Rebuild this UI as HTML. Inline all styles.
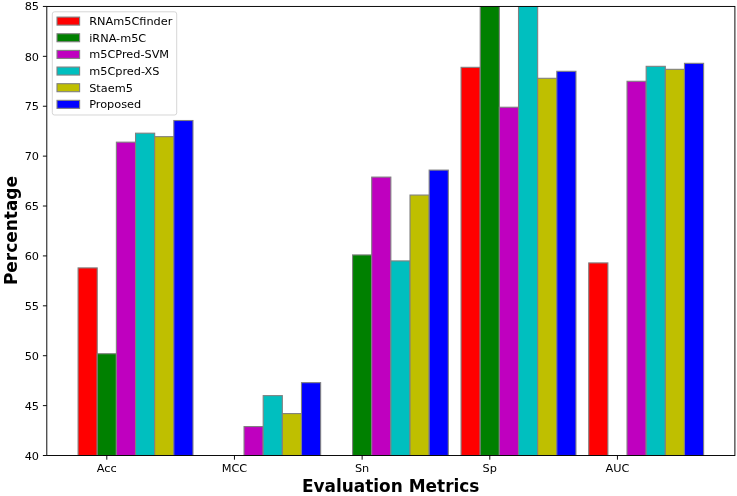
<!DOCTYPE html>
<html lang="en">
<head>
<meta charset="utf-8">
<title>Evaluation Metrics</title>
<style>
html,body{margin:0;padding:0;background:#fff;}
body{width:737px;height:496px;overflow:hidden;}
svg{display:block;}
text{font-family:"DejaVu Sans","Liberation Sans",sans-serif;fill:#000;}
.t{font-size:11.3px;}
.l{font-size:16.95px;font-weight:bold;}
</style>
</head>
<body>
<svg width="737" height="496" viewBox="0 0 737 496">
<rect x="0" y="0" width="737" height="496" fill="#ffffff"/>
<defs><clipPath id="ax"><rect x="46.8" y="6.45" width="688.1" height="449.05"/></clipPath></defs>

<g clip-path="url(#ax)" stroke="#808080" stroke-width="1.1">
<rect x="78.08" y="267.90" width="19.15" height="187.60" fill="#ff0000"/>
<rect x="461.06" y="67.32" width="19.15" height="388.18" fill="#ff0000"/>
<rect x="588.73" y="262.91" width="19.15" height="192.59" fill="#ff0000"/>
<rect x="97.23" y="353.72" width="19.15" height="101.78" fill="#008000"/>
<rect x="352.55" y="254.92" width="19.15" height="200.58" fill="#008000"/>
<rect x="480.21" y="-93.34" width="19.15" height="548.84" fill="#008000"/>
<rect x="116.38" y="142.16" width="19.15" height="313.34" fill="#bf00bf"/>
<rect x="244.04" y="426.56" width="19.15" height="28.94" fill="#bf00bf"/>
<rect x="371.70" y="177.09" width="19.15" height="278.41" fill="#bf00bf"/>
<rect x="499.36" y="107.24" width="19.15" height="348.26" fill="#bf00bf"/>
<rect x="627.03" y="81.29" width="19.15" height="374.21" fill="#bf00bf"/>
<rect x="135.53" y="133.18" width="19.15" height="322.32" fill="#00bfbf"/>
<rect x="263.19" y="395.63" width="19.15" height="59.87" fill="#00bfbf"/>
<rect x="390.85" y="260.91" width="19.15" height="194.59" fill="#00bfbf"/>
<rect x="518.51" y="-93.34" width="19.15" height="548.84" fill="#00bfbf"/>
<rect x="646.17" y="66.32" width="19.15" height="389.18" fill="#00bfbf"/>
<rect x="154.67" y="136.67" width="19.15" height="318.83" fill="#bfbf00"/>
<rect x="282.34" y="413.59" width="19.15" height="41.91" fill="#bfbf00"/>
<rect x="410.00" y="195.05" width="19.15" height="260.45" fill="#bfbf00"/>
<rect x="537.66" y="78.30" width="19.15" height="377.20" fill="#bfbf00"/>
<rect x="665.32" y="69.32" width="19.15" height="386.18" fill="#bfbf00"/>
<rect x="173.82" y="120.51" width="19.15" height="334.99" fill="#0000ff"/>
<rect x="301.49" y="382.65" width="19.15" height="72.85" fill="#0000ff"/>
<rect x="429.15" y="170.10" width="19.15" height="285.40" fill="#0000ff"/>
<rect x="556.81" y="71.31" width="19.15" height="384.19" fill="#0000ff"/>
<rect x="684.47" y="63.33" width="19.15" height="392.17" fill="#0000ff"/>
</g>
<g stroke="#000" stroke-width="0.95" fill="none">
<rect x="46.8" y="6.45" width="688.1" height="449.05"/>
<line x1="42.90" y1="455.50" x2="46.80" y2="455.50"/>
<line x1="42.90" y1="405.61" x2="46.80" y2="405.61"/>
<line x1="42.90" y1="355.71" x2="46.80" y2="355.71"/>
<line x1="42.90" y1="305.82" x2="46.80" y2="305.82"/>
<line x1="42.90" y1="255.92" x2="46.80" y2="255.92"/>
<line x1="42.90" y1="206.03" x2="46.80" y2="206.03"/>
<line x1="42.90" y1="156.13" x2="46.80" y2="156.13"/>
<line x1="42.90" y1="106.24" x2="46.80" y2="106.24"/>
<line x1="42.90" y1="56.34" x2="46.80" y2="56.34"/>
<line x1="42.90" y1="6.45" x2="46.80" y2="6.45"/>
<line x1="106.80" y1="455.50" x2="106.80" y2="459.70"/>
<line x1="234.46" y1="455.50" x2="234.46" y2="459.70"/>
<line x1="362.13" y1="455.50" x2="362.13" y2="459.70"/>
<line x1="489.79" y1="455.50" x2="489.79" y2="459.70"/>
<line x1="617.45" y1="455.50" x2="617.45" y2="459.70"/>
</g>
<text class="t" x="39.00" y="459.75" text-anchor="end">40</text>
<text class="t" x="39.00" y="409.86" text-anchor="end">45</text>
<text class="t" x="39.00" y="359.96" text-anchor="end">50</text>
<text class="t" x="39.00" y="310.07" text-anchor="end">55</text>
<text class="t" x="39.00" y="260.17" text-anchor="end">60</text>
<text class="t" x="39.00" y="210.28" text-anchor="end">65</text>
<text class="t" x="39.00" y="160.38" text-anchor="end">70</text>
<text class="t" x="39.00" y="110.49" text-anchor="end">75</text>
<text class="t" x="39.00" y="60.59" text-anchor="end">80</text>
<text class="t" x="39.00" y="10.25" text-anchor="end">85</text>
<text class="t" x="106.80" y="472.30" text-anchor="middle">Acc</text>
<text class="t" x="234.46" y="472.30" text-anchor="middle">MCC</text>
<text class="t" x="362.13" y="472.30" text-anchor="middle">Sn</text>
<text class="t" x="489.79" y="472.30" text-anchor="middle">Sp</text>
<text class="t" x="617.45" y="472.30" text-anchor="middle">AUC</text>
<text class="l" x="390.65" y="491.90" text-anchor="middle">Evaluation Metrics</text>
<text class="l" transform="translate(16.80,230.57) rotate(-90)" text-anchor="middle">Percentage</text>
<rect x="52.3" y="11.8" width="124.4" height="103.2" rx="2.2" ry="2.2" fill="#ffffff" fill-opacity="0.8" stroke="#cccccc" stroke-opacity="0.8" stroke-width="1"/>
<rect x="57.00" y="17.10" width="22.6" height="8.0" fill="#ff0000" stroke="#808080" stroke-width="1.1"/>
<text class="t" x="89.20" y="25.10">RNAm5Cfinder</text>
<rect x="57.00" y="33.75" width="22.6" height="8.0" fill="#008000" stroke="#808080" stroke-width="1.1"/>
<text class="t" x="89.20" y="41.75">iRNA-m5C</text>
<rect x="57.00" y="50.40" width="22.6" height="8.0" fill="#bf00bf" stroke="#808080" stroke-width="1.1"/>
<text class="t" x="89.20" y="58.40">m5CPred-SVM</text>
<rect x="57.00" y="67.05" width="22.6" height="8.0" fill="#00bfbf" stroke="#808080" stroke-width="1.1"/>
<text class="t" x="89.20" y="75.05">m5Cpred-XS</text>
<rect x="57.00" y="83.70" width="22.6" height="8.0" fill="#bfbf00" stroke="#808080" stroke-width="1.1"/>
<text class="t" x="89.20" y="91.70">Staem5</text>
<rect x="57.00" y="100.35" width="22.6" height="8.0" fill="#0000ff" stroke="#808080" stroke-width="1.1"/>
<text class="t" x="89.20" y="108.35">Proposed</text>
</svg>
</body>
</html>
